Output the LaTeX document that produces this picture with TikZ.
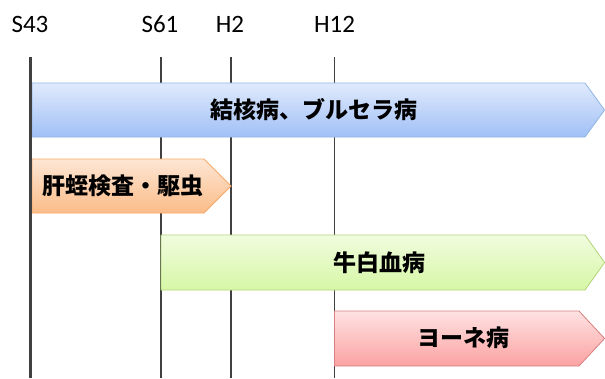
\documentclass[tikz,border=0pt]{standalone}
\usepackage{fontspec}
\setmainfont{Carlito}
\newfontfamily\jp{Noto Sans CJK JP}
\begin{document}
\begin{tikzpicture}[x=1pt,y=-1pt,
  year/.style={font=\fontsize{25}{25}\selectfont, anchor=base, inner sep=0pt},
  tline/.style={draw=black!75, line width=1.9pt},
  jlabel/.style={font=\jp\bfseries\fontsize{23}{23}\selectfont, inner sep=0pt},
  barblue/.style={draw={rgb,255:red,142;green,180;blue,227}, line width=0.8pt, top color={rgb,255:red,224;green,234;blue,252}, bottom color={rgb,255:red,160;green,192;blue,246}},
  barorange/.style={draw={rgb,255:red,247;green,168;blue,104}, line width=0.8pt, top color={rgb,255:red,253;green,230;blue,212}, bottom color={rgb,255:red,251;green,188;blue,136}},
  bargreen/.style={draw={rgb,255:red,180;green,212;blue,122}, line width=0.8pt, top color={rgb,255:red,240;green,252;blue,222}, bottom color={rgb,255:red,214;green,247;blue,166}},
  barred/.style={draw={rgb,255:red,217;green,128;blue,128}, line width=0.8pt, top color={rgb,255:red,254;green,226;blue,226}, bottom color={rgb,255:red,252;green,162;blue,162}}
]
\useasboundingbox (0,0) rectangle (605,378);
% year labels
\node[year] (s43) at (30,32) {S43};
\node[year] (s61) at (160,32) {S61};
\node[year] (h2) at (230,32) {H2};
\node[year] (h12) at (334.5,32) {H12};
% time lines
\coordinate (s43t) at (30.2,57); \coordinate (s43b) at (30.2,378);
\coordinate (s61t) at (161,57); \coordinate (s61b) at (161,378);
\coordinate (h2t) at (231,57); \coordinate (h2b) at (231,378);
\coordinate (h12t) at (334.5,57); \coordinate (h12b) at (334.5,378);
\draw[tline] (s61t) -- (s61b);
\draw[tline] (h2t) -- (h2b);
\draw[tline] (h12t) -- (h12b);
% bars
\path[barblue] (32,83) -- (585,83) -- (604.6,110) -- (585,137) -- (32,137) -- cycle;
\path[barorange] (32,159) -- (204,159) -- (231,186) -- (204,213) -- (32,213) -- cycle;
\path[bargreen] (161,235) -- (585,235) -- (604.6,262.5) -- (585,290) -- (161,290) -- cycle;
\path[barred] (334.5,311) -- (579,311) -- (604.6,338.5) -- (579,366) -- (334.5,366) -- cycle;
\draw[tline, line width=3.4pt] (s43t) -- (s43b);
% labels
\node[jlabel] (tb) at (314,110) {結核病、ブルセラ病};
\node[jlabel] (fl) at (123,186) {肝蛭検査・駆虫};
\node[jlabel] (bl) at (379,262.5) {牛白血病};
\node[jlabel] (jd) at (463,338) {ヨーネ病};
\end{tikzpicture}
\end{document}
